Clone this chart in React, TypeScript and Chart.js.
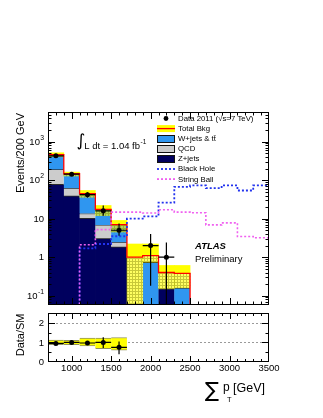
import React, { useEffect, useRef } from 'react';
import { Chart, registerables } from 'chart.js';

Chart.register(...registerables);

// ---------------- data ----------------
const binEdges = [700, 900, 1100, 1300, 1500, 1700, 1900, 2100, 2300, 2500, 2700, 2900, 3100, 3300, 3500];
const binCenters = [800, 1000, 1200, 1400, 1600, 1800, 2000, 2200, 2400, 2600, 2800, 3000, 3200, 3400];

const zJets = [76, 38, 10, 3.0, 1.8, 0, 0, 0.15, 0, 0, 0, 0, 0, 0];
const qcd = [114, 24, 3.6, 3.9, 0.65, 0, 0, 0, 0, 0, 0, 0, 0, 0];
const wJetsTtbar = [267, 85, 30.8, 10.5, 4.55, 0, 0.74, 0, 0.16, 0, 0, 0, 0, 0];
const totalBkg = [457, 147, 44.4, 17.4, 7.0, 1.0, 1.1, 0.4, 0.38, 0, 0, 0, 0, 0];
const bkgBandLow = [405, 128, 36, 12, 4.5, 0, 0.74, 0.15, 0.16, 0, 0, 0, 0, 0];
const bkgBandHigh = [515, 162, 54, 22, 9, 2.2, 2.2, 0.61, 0.61, 0, 0, 0, 0, 0];

const dataCounts = [430, 143, 42, 16, 5, 0, 2, 1, 0, 0, 0, 0, 0, 0];
const dataErrLow = [409, 131, 35.5, 12, 3.6, 0, 0.18, 0, 0, 0, 0, 0, 0, 0];
const dataErrHigh = [451, 155, 48.5, 22, 7.5, 0, 4.0, 2.4, 0, 0, 0, 0, 0, 0];

const blackHole = [0, 0, 1.7, 2.2, 3.5, 10, 11.5, 26, 67, 73, 62, 73, 54, 73];
const stringBall = [0, 0, 2.1, 5.2, 14.8, 14.8, 14, 17, 14.8, 14.2, 6.9, 7.8, 3.45, 3.2];

// ratio panel (first five bins)
const ratioCenters = [800, 1000, 1200, 1400, 1600];
const dataOverSM = [0.95, 1.0, 0.97, 1.0, 0.75];
const ratioErrLow = [0.9, 0.93, 0.89, 0.72, 0.4];
const ratioErrHigh = [1.0, 1.07, 1.05, 1.26, 1.04];
const smBandLow = [0.88, 0.88, 0.82, 0.68, 0.6];
const smBandHigh = [1.12, 1.1, 1.22, 1.22, 1.25];

// ticks / labels
const xTickValues = [1000, 1500, 2000, 2500, 3000, 3500];
const xTickLabels = ['1000', '1500', '2000', '2500', '3000', '3500'];
const yTickValues = [0.1, 1, 10, 100, 1000];
const yTickMantissa = ['10', '1', '10', '10', '10'];
const yTickExponent = ['-1', '', '', '2', '3'];
const ratioTickValues = [0, 1, 2];
const ratioTickLabels = ['0', '1', '2'];
const legendLabels = ['Data 2011 (\u221As=7 TeV)', 'Total Bkg', 'W+jets & t\u0074\u0304', 'QCD', 'Z+jets', 'Black Hole', 'String Ball'];

const X_MIN = 700;
const X_MAX = 3500;
const Y_MIN = 0.0573;
const Y_MAX = 5900;
const R_MIN = 0;
const R_MAX = 2.5;

// ---------------- styles ----------------
const FONT = '"Liberation Sans", Arial, Helvetica, sans-serif';
const C_Z = '#00005e';
const C_QCD = '#cccccc';
const C_W = '#2f96f0';
const C_BH = '#2233ee';
const C_SB = '#f060f0';
const C_RED = '#ff0000';
const C_YELLOW = '#ffff00';

const floorV = (v: number) => (v > 0 ? v : Y_MIN);

const stepPoints = (vals: number[]) => [
  ...binEdges.slice(0, -1).map((x, i) => ({ x, y: floorV(vals[i]) })),
  { x: binEdges[binEdges.length - 1], y: floorV(vals[vals.length - 1]) },
];

function makeHatch(): any {
  const c = document.createElement('canvas');
  c.width = 3;
  c.height = 3;
  const g = c.getContext('2d')!;
  g.fillStyle = 'rgba(255,255,0,0.62)';
  g.fillRect(0, 0, 3, 3);
  g.fillStyle = 'rgba(125,125,0,0.42)';
  g.fillRect(0, 0, 3, 1);
  g.fillRect(0, 1, 1, 2);
  return g.createPattern(c, 'repeat');
}

const errorBarPlugin = {
  id: 'errorBars',
  beforeDatasetDraw(chart: any, args: any) {
    const ds = chart.data.datasets[args.index];
    if (!ds.errorBars) return;
    const { ctx, chartArea: a } = chart;
    const xs = chart.scales.x;
    const ys = chart.scales.y;
    ctx.save();
    ctx.beginPath();
    ctx.rect(a.left, a.top, a.right - a.left, a.bottom - a.top);
    ctx.clip();
    ctx.strokeStyle = '#000';
    ctx.lineWidth = 1.2;
    ds.data.forEach((p: any, i: number) => {
      const px = xs.getPixelForValue(p.x);
      const py = ys.getPixelForValue(p.y);
      const lo = ys.getPixelForValue(ds.errorBars.low[i]);
      const hi = ys.getPixelForValue(ds.errorBars.high[i]);
      const xl = xs.getPixelForValue(p.x - ds.errorBars.half);
      const xr = xs.getPixelForValue(p.x + ds.errorBars.half);
      ctx.beginPath();
      ctx.moveTo(px, lo);
      ctx.lineTo(px, hi);
      ctx.moveTo(xl, py);
      ctx.lineTo(xr, py);
      ctx.stroke();
    });
    ctx.restore();
  },
};

function hLine(ctx: CanvasRenderingContext2D, x1: number, y: number, x2: number) {
  ctx.beginPath();
  ctx.moveTo(x1, y);
  ctx.lineTo(x2, y);
  ctx.stroke();
}
function vLine(ctx: CanvasRenderingContext2D, x: number, y1: number, y2: number) {
  ctx.beginPath();
  ctx.moveTo(x, y1);
  ctx.lineTo(x, y2);
  ctx.stroke();
}

function drawXTicks(ctx: CanvasRenderingContext2D, chart: any, major: number, minor: number) {
  const a = chart.chartArea;
  const xs = chart.scales.x;
  for (let v = X_MIN + 100; v < X_MAX; v += 100) {
    const px = Math.round(xs.getPixelForValue(v)) + 0.5;
    const len = v % 500 === 0 ? major : minor;
    vLine(ctx, px, a.bottom, a.bottom - len);
    vLine(ctx, px, a.top, a.top + len);
  }
}

const mainDecor = {
  id: 'mainDecor',
  beforeDatasetsDraw(chart: any) {
    const { ctx, chartArea: a } = chart;
    ctx.save();
    ctx.strokeStyle = '#000';
    ctx.lineWidth = 1;
    ctx.strokeRect(a.left + 0.5, a.top + 0.5, a.right - a.left - 1, a.bottom - a.top - 1);
    ctx.restore();
  },
  afterDraw(chart: any) {
    const { ctx, chartArea: a } = chart;
    const ys = chart.scales.y;
    ctx.save();
    ctx.strokeStyle = '#000';
    ctx.lineWidth = 1;
    ctx.strokeRect(a.left + 0.5, a.top + 0.5, a.right - a.left - 1, a.bottom - a.top - 1);
    drawXTicks(ctx, chart, 7, 3.5);
    for (let e = -2; e <= 4; e++) {
      for (let m = 1; m <= 9; m++) {
        const v = m * Math.pow(10, e);
        if (v <= ys.min || v >= ys.max) continue;
        const py = Math.round(ys.getPixelForValue(v)) + 0.5;
        const len = m === 1 ? 7 : 3.5;
        hLine(ctx, a.left, py, a.left + len);
        hLine(ctx, a.right, py, a.right - len);
      }
    }
    // y tick labels
    ctx.fillStyle = '#000';
    ctx.textBaseline = 'middle';
    ctx.textAlign = 'right';
    yTickValues.forEach((v, i) => {
      const py = ys.getPixelForValue(v);
      let right = a.left - 4;
      const exp = yTickExponent[i];
      if (exp) {
        ctx.font = `6.8px ${FONT}`;
        const w = ctx.measureText(exp).width;
        ctx.fillText(exp, right, py - 4);
        right -= w + 0.3;
      }
      ctx.font = `9.5px ${FONT}`;
      ctx.fillText(yTickMantissa[i], right, py + 0.5);
    });
    // y title
    ctx.save();
    ctx.translate(21, 113);
    ctx.rotate(-Math.PI / 2);
    ctx.font = `11px ${FONT}`;
    ctx.textAlign = 'right';
    ctx.textBaseline = 'middle';
    ctx.fillText('Events/200 GeV', 0, 0);
    ctx.restore();

    // legend
    const lx0 = 157;
    const lx1 = 175;
    const tx = 178;
    const rowY = (i: number) => 118.5 + 10.1 * i;
    ctx.textAlign = 'left';
    ctx.textBaseline = 'middle';
    ctx.font = `7.8px ${FONT}`;
    legendLabels.forEach((t, i) => ctx.fillText(t, tx, rowY(i) + 0.3));
    // data marker
    ctx.beginPath();
    ctx.arc((lx0 + lx1) / 2, rowY(0), 2.4, 0, Math.PI * 2);
    ctx.fill();
    // total bkg
    ctx.fillStyle = C_YELLOW;
    ctx.fillRect(lx0, rowY(1) - 3.5, lx1 - lx0, 7);
    ctx.strokeStyle = C_RED;
    ctx.lineWidth = 1.3;
    hLine(ctx, lx0, rowY(1), lx1);
    // boxes
    [C_W, C_QCD, C_Z].forEach((col, k) => {
      const y = rowY(2 + k);
      ctx.fillStyle = col;
      ctx.fillRect(lx0, y - 3.5, lx1 - lx0, 7);
      ctx.strokeStyle = '#111';
      ctx.lineWidth = 1;
      ctx.strokeRect(lx0 + 0.5, Math.round(y - 3.5) + 0.5, lx1 - lx0 - 1, 7);
    });
    ctx.lineWidth = 1.8;
    ctx.setLineDash([2, 2]);
    ctx.strokeStyle = C_BH;
    hLine(ctx, lx0, rowY(5), lx1);
    ctx.strokeStyle = C_SB;
    hLine(ctx, lx0, rowY(6), lx1);
    ctx.setLineDash([]);

    // luminosity
    ctx.fillStyle = '#000';
    ctx.font = `17px "DejaVu Sans", ${FONT}`;
    ctx.textAlign = 'center';
    ctx.textBaseline = 'middle';
    ctx.fillText('\u222B', 81, 141.5);
    ctx.textAlign = 'left';
    ctx.textBaseline = 'alphabetic';
    ctx.font = `9.5px ${FONT}`;
    ctx.fillText('L dt = 1.04 fb', 84.3, 148.5);
    const wl = ctx.measureText('L dt = 1.04 fb').width;
    ctx.font = `6.5px ${FONT}`;
    ctx.fillText('-1', 84.3 + wl + 0.5, 143.5);

    // ATLAS Preliminary
    ctx.textBaseline = 'middle';
    ctx.font = `italic bold 9.5px ${FONT}`;
    ctx.fillText('ATLAS', 195, 246.7);
    ctx.font = `9.5px ${FONT}`;
    ctx.fillText('Preliminary', 195, 259.3);
    ctx.restore();
  },
};

const ratioDecor = {
  id: 'ratioDecor',
  beforeDatasetsDraw(chart: any) {
    const { ctx, chartArea: a } = chart;
    const ys = chart.scales.y;
    ctx.save();
    ctx.strokeStyle = '#9a9a9a';
    ctx.lineWidth = 1;
    ctx.setLineDash([2, 2]);
    [1, 2].forEach((v) => {
      const py = Math.round(ys.getPixelForValue(v)) + 0.5;
      hLine(ctx, a.left, py, a.right);
    });
    ctx.setLineDash([]);
    ctx.restore();
  },
  afterDraw(chart: any) {
    const { ctx, chartArea: a } = chart;
    const xs = chart.scales.x;
    const ys = chart.scales.y;
    ctx.save();
    ctx.strokeStyle = '#000';
    ctx.lineWidth = 1;
    ctx.strokeRect(a.left + 0.5, a.top + 0.5, a.right - a.left - 1, a.bottom - a.top - 1);
    drawXTicks(ctx, chart, 6, 3);
    for (let v = 0.5; v < R_MAX; v += 0.5) {
      const py = Math.round(ys.getPixelForValue(v)) + 0.5;
      const len = v % 1 === 0 ? 7 : 3.5;
      hLine(ctx, a.left, py, a.left + len);
      hLine(ctx, a.right, py, a.right - len);
    }
    ctx.fillStyle = '#000';
    ctx.font = `9.5px ${FONT}`;
    ctx.textAlign = 'center';
    ctx.textBaseline = 'middle';
    xTickValues.forEach((v, i) => ctx.fillText(xTickLabels[i], xs.getPixelForValue(v), 368.5));
    ctx.textAlign = 'right';
    ratioTickValues.forEach((v, i) => ctx.fillText(ratioTickLabels[i], a.left - 4, ys.getPixelForValue(v) + 0.5));
    // y title
    ctx.save();
    ctx.translate(20.5, a.top + 0.5);
    ctx.rotate(-Math.PI / 2);
    ctx.font = `11px ${FONT}`;
    ctx.textAlign = 'right';
    ctx.textBaseline = 'middle';
    ctx.fillText('Data/SM', 0, 0);
    ctx.restore();
    // x title
    ctx.textAlign = 'center';
    ctx.textBaseline = 'middle';
    ctx.font = `21px "DejaVu Sans", ${FONT}`;
    ctx.fillText('\u2211', 212, 392);
    ctx.textAlign = 'left';
    ctx.textBaseline = 'alphabetic';
    ctx.font = `12px ${FONT}`;
    ctx.fillText('p', 223, 391);
    ctx.font = `7.5px ${FONT}`;
    ctx.fillText('T', 227, 402);
    ctx.font = `12.5px ${FONT}`;
    ctx.fillText('[GeV]', 233, 391.5);
    ctx.restore();
  },
};

export default function App() {
  const mainRef = useRef<HTMLCanvasElement>(null);
  const ratioRef = useRef<HTMLCanvasElement>(null);

  useEffect(() => {
    const hatch = makeHatch();
    const barBase = { type: 'bar', grouped: false, barPercentage: 1, categoryPercentage: 1 };

    const zData = binCenters.map((x, i) => ({ x, y: [Y_MIN, zJets[i]] })).filter((_, i) => zJets[i] > 0);
    const qData = binCenters
      .map((x, i) => ({ x, y: [floorV(zJets[i]), zJets[i] + qcd[i]] }))
      .filter((_, i) => qcd[i] > 0);
    const wData = binCenters
      .map((x, i) => ({ x, y: [floorV(zJets[i] + qcd[i]), zJets[i] + qcd[i] + wJetsTtbar[i]] }))
      .filter((_, i) => wJetsTtbar[i] > 0);
    const hatchData = binCenters
      .map((x, i) => ({ x, y: [floorV(bkgBandLow[i]), totalBkg[i]] }))
      .filter((_, i) => totalBkg[i] > 0);
    const yellowData = binCenters
      .map((x, i) => ({ x, y: [totalBkg[i], bkgBandHigh[i]] }))
      .filter((_, i) => totalBkg[i] > 0);
    const idx = binCenters.map((_, i) => i).filter((i) => dataCounts[i] > 0);

    const main = new Chart(mainRef.current!, {
      type: 'bar',
      data: {
        datasets: [
          {
            label: 'Data 2011',
            type: 'line',
            data: idx.map((i) => ({ x: binCenters[i], y: dataCounts[i] })),
            showLine: false,
            pointRadius: 2.5,
            pointBackgroundColor: '#000',
            pointBorderWidth: 0,
            borderColor: '#000',
            order: 0,
            errorBars: {
              low: idx.map((i) => floorV(dataErrLow[i])),
              high: idx.map((i) => dataErrHigh[i]),
              half: 100,
            },
          } as any,
          {
            label: 'String Ball',
            type: 'line',
            data: stepPoints(stringBall),
            stepped: true,
            borderColor: C_SB,
            borderWidth: 1.6,
            borderDash: [2, 2],
            pointRadius: 0,
            fill: false,
            order: 1,
          },
          {
            label: 'Black Hole',
            type: 'line',
            data: stepPoints(blackHole),
            stepped: true,
            borderColor: C_BH,
            borderWidth: 1.8,
            borderDash: [2, 2],
            pointRadius: 0,
            fill: false,
            order: 2,
          },
          {
            label: 'Total Bkg',
            type: 'line',
            data: stepPoints(totalBkg),
            stepped: true,
            borderColor: C_RED,
            borderWidth: 1.3,
            pointRadius: 0,
            fill: false,
            order: 3,
          },
          { ...barBase, label: 'band up', data: yellowData, backgroundColor: C_YELLOW, borderWidth: 0, order: 4 },
          { ...barBase, label: 'band down', data: hatchData, backgroundColor: hatch, borderWidth: 0, order: 5 },
          {
            ...barBase,
            label: 'W+jets',
            data: wData,
            backgroundColor: C_W,
            borderColor: '#1a1a1a',
            borderWidth: { top: 1, bottom: 0, left: 0, right: 0 },
            borderSkipped: false,
            order: 6,
          },
          {
            ...barBase,
            label: 'QCD',
            data: qData,
            backgroundColor: C_QCD,
            borderColor: '#2a2a2a',
            borderWidth: { top: 1, bottom: 1, left: 0, right: 0 },
            borderSkipped: false,
            order: 7,
          },
          { ...barBase, label: 'Z+jets', data: zData, backgroundColor: C_Z, borderWidth: 0, order: 8 },
        ] as any,
      },
      options: {
        responsive: false,
        animation: false,
        devicePixelRatio: 1,
        events: [],
        layout: { padding: { left: 48, top: 112, right: 54, bottom: 113 } },
        plugins: { legend: { display: false }, tooltip: { enabled: false } },
        scales: {
          x: { type: 'linear', min: X_MIN, max: X_MAX, bounds: 'data', offset: false, display: false, ticks: { stepSize: 500 } },
          y: { type: 'logarithmic', min: Y_MIN, max: Y_MAX, bounds: 'data', display: false },
        },
      } as any,
      plugins: [errorBarPlugin, mainDecor],
    });

    const ratio = new Chart(ratioRef.current!, {
      type: 'bar',
      data: {
        datasets: [
          {
            label: 'Data/SM',
            type: 'line',
            data: ratioCenters.map((x, i) => ({ x, y: dataOverSM[i] })),
            showLine: false,
            pointRadius: 2.5,
            pointBackgroundColor: '#000',
            pointBorderWidth: 0,
            borderColor: '#000',
            order: 0,
            errorBars: { low: ratioErrLow, high: ratioErrHigh, half: 100 },
          } as any,
          {
            ...barBase,
            label: 'SM uncertainty',
            data: ratioCenters.map((x, i) => ({ x, y: [smBandLow[i], smBandHigh[i]] })),
            backgroundColor: C_YELLOW,
            borderColor: 'rgba(110,110,40,0.75)',
            borderWidth: { top: 1, bottom: 1, left: 0, right: 0 },
            borderSkipped: false,
            order: 1,
          },
        ] as any,
      },
      options: {
        responsive: false,
        animation: false,
        devicePixelRatio: 1,
        events: [],
        layout: { padding: { left: 48, top: 313, right: 54, bottom: 56 } },
        plugins: { legend: { display: false }, tooltip: { enabled: false } },
        scales: {
          x: { type: 'linear', min: X_MIN, max: X_MAX, bounds: 'data', offset: false, display: false, ticks: { stepSize: 500 } },
          y: { type: 'linear', min: R_MIN, max: R_MAX, bounds: 'data', display: false },
        },
      } as any,
      plugins: [errorBarPlugin, ratioDecor],
    });

    return () => {
      main.destroy();
      ratio.destroy();
    };
  }, []);

  return (
    <div style={{ position: 'fixed', left: 0, top: 0, width: 323, height: 418, background: '#fff' }}>
      <canvas ref={mainRef} width={323} height={418} style={{ position: 'absolute', left: 0, top: 0 }} />
      <canvas ref={ratioRef} width={323} height={418} style={{ position: 'absolute', left: 0, top: 0 }} />
    </div>
  );
}
